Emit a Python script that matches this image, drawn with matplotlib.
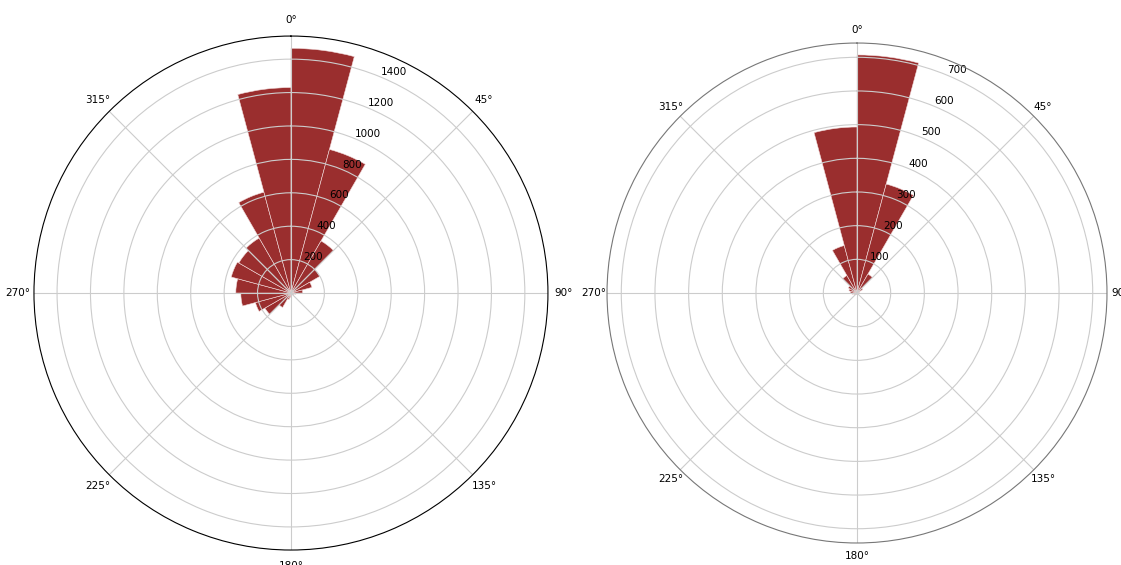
import numpy as np
import matplotlib.pyplot as plt

# direction bins, 15 degrees each, clockwise from north
bin_edges_deg = np.arange(0, 360, 15)

counts_a = [1465, 890, 360, 200, 130, 70, 30, 20, 15, 10, 10, 15,
            25, 40, 100, 180, 220, 300, 330, 370, 360, 380, 625, 1230]
counts_b = [707, 335, 65, 20, 8, 5, 4, 3, 3, 3, 3, 4,
            5, 5, 6, 8, 10, 15, 20, 25, 30, 60, 146, 493]

bar_color = '#9a2e2e'


def rose(ax, counts, pad):
    theta = np.deg2rad(bin_edges_deg)
    width = np.deg2rad(15)
    ax.set_theta_zero_location('N')
    ax.set_theta_direction(-1)
    ax.bar(theta, counts, width=width, align='edge', color=bar_color,
           edgecolor='#f3dede', linewidth=0.4)
    ax.tick_params(labelsize=7.5)
    ax.tick_params(axis='x', pad=pad)
    ax.grid(True, color='#cccccc')


fig = plt.figure(figsize=(11.21, 5.65), dpi=100)
ax1 = fig.add_axes([0.0303, 0.0265, 0.4585, 0.9097], projection='polar')
ax2 = fig.add_axes([0.5415, 0.0389, 0.446, 0.885], projection='polar')
rose(ax1, counts_a, 1)
rose(ax2, counts_b, -1)
ax1.set_yticks([200, 400, 600, 800, 1000, 1200, 1400])
ax2.set_yticks([100, 200, 300, 400, 500, 600, 700])
ax2.spines['polar'].set_color('#777777')

fig.savefig('out.png', dpi=100)
